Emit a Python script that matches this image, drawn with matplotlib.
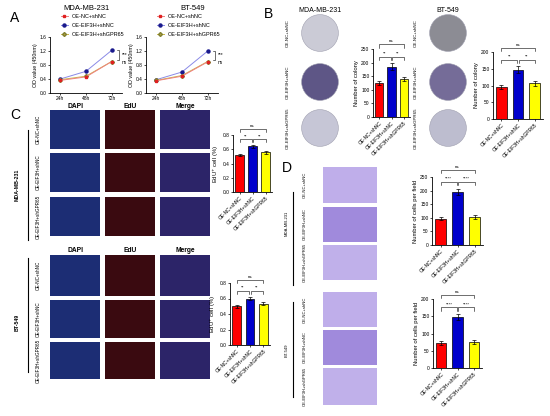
import matplotlib
matplotlib.use("Agg")
import matplotlib.pyplot as plt
from matplotlib.patches import Circle
import numpy as np

W, H = 550, 416

# ---- data ----
time_labels = ["24h", "48h", "72h"]
groups = ["OE-NC+shNC", "OE-EIF3H+shNC", "OE-EIF3H+shGPR65"]

od_mda_nc = [0.36, 0.46, 0.90]
od_mda_eif = [0.40, 0.62, 1.22]
od_mda_gpr = [0.38, 0.48, 0.90]
od_bt_nc = [0.35, 0.48, 0.89]
od_bt_eif = [0.38, 0.60, 1.20]
od_bt_gpr = [0.36, 0.50, 0.90]

colony_mda = [125, 185, 140]
colony_mda_err = [7, 12, 8]
colony_bt = [95, 147, 107]
colony_bt_err = [6, 10, 7]

edu_mda = [0.52, 0.64, 0.56]
edu_mda_err = [0.02, 0.02, 0.02]
edu_bt = [0.50, 0.60, 0.53]
edu_bt_err = [0.02, 0.02, 0.02]

cells_mda = [97, 195, 102]
cells_mda_err = [6, 12, 7]
cells_bt = [72, 148, 75]
cells_bt_err = [6, 8, 6]

bar_colors = ["#ff0000", "#0000cc", "#ffff00"]

fig = plt.figure(figsize=(5.5, 4.16), dpi=100)
plt.rcParams['font.family'] = ['Liberation Sans', 'DejaVu Sans']


def px(x0, y0, x1, y1, **kw):
    return fig.add_axes([x0 / W, 1 - y1 / H, (x1 - x0) / W, (y1 - y0) / H], **kw)


def ftext(x, y, s, **kw):
    fig.text(x / W, 1 - y / H, s, **kw)


def fline(x, y0, y1):
    fig.add_artist(plt.Line2D([x / W, x / W], [1 - y0 / H, 1 - y1 / H], color="black", lw=0.8))


def prism(ax):
    for s in ["top", "right"]:
        ax.spines[s].set_visible(False)
    for s in ["left", "bottom"]:
        ax.spines[s].set_linewidth(0.6)
    ax.tick_params(labelsize=3.5, width=0.5, length=1.5, pad=1)


def bracket(ax, x0, x1, y, h, txt):
    ax.plot([x0, x0, x1, x1], [y - h, y, y, y - h], color="black", lw=0.4, clip_on=False)
    ax.text((x0 + x1) / 2, y + h * 0.3, txt, ha="center", va="bottom", fontsize=3.2, clip_on=False)


def bar_panel(box, vals, errs, ymax, ystep, ylabel, sig, fmt="{:.0f}"):
    ax = px(*box)
    x = np.arange(3)
    ax.bar(x, vals, width=0.65, color=bar_colors, edgecolor="black", linewidth=0.5,
           yerr=errs, error_kw=dict(elinewidth=0.5, capsize=1.2, capthick=0.5))
    ax.set_ylim(0, ymax)
    ax.set_xlim(-0.5, 2.5)
    ticks = np.arange(0, ymax + ystep / 2, ystep)
    ax.set_yticks(ticks)
    ax.set_yticklabels([fmt.format(t) for t in ticks])
    ax.set_xticks(x)
    ax.set_xticklabels(groups, rotation=45, ha="right", rotation_mode="anchor", fontsize=2.8)
    ax.set_ylabel(ylabel, fontsize=4.2, labelpad=1.5)
    prism(ax)
    top = max(vals) + max(errs)
    h = ymax * 0.05
    bracket(ax, 0, 0.95, top + ymax * 0.1, h, sig)
    bracket(ax, 1.05, 2, top + ymax * 0.1, h, sig)
    bracket(ax, 0, 2, top + ymax * 0.28, h, "ns")
    return ax


def od_panel(box, nc, eif, gpr):
    ax = px(*box)
    x = np.arange(3)
    ax.plot(x, eif, color="#8a8ae6", lw=0.7, marker="o", ms=2.2, mfc="#1a1a8c", mec="#1a1a8c",
            label="OE-EIF3H+shNC")
    ax.plot(x, gpr, color="#c8b84a", lw=0.7, marker="D", ms=2, mfc="#b0a040", mec="#808030",
            label="OE-EIF3H+shGPR65")
    ax.plot(x, nc, color="#f08080", lw=0.7, marker="s", ms=2, mfc="#e02020", mec="#e02020",
            label="OE-NC+shNC")
    ax.set_ylim(0, 1.6)
    ax.set_yticks([0, 0.4, 0.8, 1.2, 1.6])
    ax.set_yticklabels(["0.0", "0.4", "0.8", "1.2", "1.6"])
    ax.set_xlim(-0.4, 2.4)
    ax.set_xticks(x)
    ax.set_xticklabels(time_labels)
    ax.set_ylabel("OD value (450nm)", fontsize=3.8, labelpad=1.5)
    prism(ax)
    h, l = ax.get_legend_handles_labels()
    order = [2, 0, 1]
    ax.legend([h[i] for i in order], [l[i] for i in order], loc="lower left",
              bbox_to_anchor=(0.1, 0.93), fontsize=4, frameon=False, handlelength=1.2,
              labelspacing=0.7, borderpad=0.2)
    ax.plot([2.2, 2.3, 2.3, 2.2], [eif[2], eif[2], nc[2] + 0.05, nc[2] + 0.05],
            color="black", lw=0.4, clip_on=False)
    ax.text(2.38, (eif[2] + nc[2]) / 2 + 0.05, "***", fontsize=3.5, va="center", clip_on=False)
    ax.text(2.38, nc[2] - 0.02, "ns", fontsize=3.5, va="center", clip_on=False)
    return ax


def tile(box, color):
    ax = px(*box)
    ax.set_facecolor(color)
    ax.set_xticks([])
    ax.set_yticks([])
    for s in ax.spines.values():
        s.set_visible(False)
    return ax


# ---- panel letters ----
for lx, ly, s in [(10, 18, "A"), (264, 14, "B"), (10, 115, "C"), (282, 168, "D")]:
    ftext(lx, ly, s, fontsize=10, ha="left", va="center")

# ---- A ----
od_panel((50, 37, 122, 93), od_mda_nc, od_mda_eif, od_mda_gpr)
od_panel((146, 37, 218, 93), od_bt_nc, od_bt_eif, od_bt_gpr)
ftext(87, 8, "MDA-MB-231", fontsize=5.5, ha="center", va="center")
ftext(193, 8, "BT-549", fontsize=5.5, ha="center", va="center")

# ---- B: colony plates ----
plate_cols_mda = ["#cbcbd6", "#5e5686", "#c6c6d6"]
plate_cols_bt = ["#8c8c94", "#756c98", "#bdbdcf"]
for cx, cols, title in [(320, plate_cols_mda, "MDA-MB-231"), (448, plate_cols_bt, "BT-549")]:
    ftext(cx, 10, title, fontsize=5, ha="center", va="center")
    for cy, c, g in zip([33, 82, 128], cols, groups):
        ax = px(cx - 20, cy - 20, cx + 20, cy + 20)
        ax.set_xlim(-1, 1)
        ax.set_ylim(-1, 1)
        ax.add_patch(Circle((0, 0), 0.92, facecolor=c, edgecolor="#a0a0b0", lw=0.4))
        ax.axis("off")
        ftext(cx - 32, cy, g, fontsize=3.2, rotation=90, ha="center", va="center")

bar_panel((373, 49, 410, 117), colony_mda, colony_mda_err, 250, 50, "Number of colony", "**")
bar_panel((493, 52, 543, 119), colony_bt, colony_bt_err, 200, 50, "Number of colony", "**")

# ---- C: EdU tiles ----
tile_cols = ["#1c2d74", "#3a0a10", "#2c2468"]
for head_y, rows, lab, lab_y, line_y in [
        (107, [(110, 149), (153, 192), (197, 236)], "MDA-MB-231", 185, (130, 240)),
        (250, [(255, 296), (300, 338), (342, 379)], "BT-549", 322, (258, 372))]:
    for x0, hd in zip([50, 105, 160], ["DAPI", "EdU", "Merge"]):
        ftext(x0 + 25, head_y, hd, fontsize=4.8, ha="center", va="center", fontweight="bold")
    for (y0, y1), g in zip(rows, groups):
        for x0, c in zip([50, 105, 160], tile_cols):
            tile((x0, y0, x0 + 50, y1), c)
        ftext(38, (y0 + y1) / 2, g, fontsize=3.3, rotation=90, ha="center", va="center")
    ftext(17, lab_y, lab, fontsize=3.8, rotation=90, ha="center", va="center", fontweight="bold")
    fline(28, line_y[0], line_y[1])

bar_panel((233, 135, 272, 192), edu_mda, edu_mda_err, 0.8, 0.2, "EdU$^{+}$ cell (%)", "**", "{:.1f}")
bar_panel((230, 283, 270, 345), edu_bt, edu_bt_err, 0.8, 0.2, "EdU$^{+}$ cell (%)", "**", "{:.1f}")

# ---- D: transwell tiles ----
tw_cols = ["#bfaeea", "#a08adc", "#c0b0ea"]
for rows, lab, lab_y, line_y in [
        ([(167, 203), (207, 242), (245, 280)], "MDA-MB-231", 223, (192, 285)),
        ([(292, 327), (330, 365), (368, 405)], "BT-549", 350, (302, 397))]:
    for (y0, y1), g, c in zip(rows, groups, tw_cols):
        tile((323, y0, 377, y1), c)
        ftext(305, (y0 + y1) / 2, g, fontsize=3.0, rotation=90, ha="center", va="center")
    ftext(287, lab_y, lab, fontsize=3.0, rotation=90, ha="center", va="center")
    fline(293, line_y[0], line_y[1])

bar_panel((432, 177, 483, 245), cells_mda, cells_mda_err, 250, 50, "Number of cells per field", "****")
bar_panel((433, 299, 482, 368), cells_bt, cells_bt_err, 200, 50, "Number of cells per field", "****")

fig.savefig("out.png", dpi=100)
